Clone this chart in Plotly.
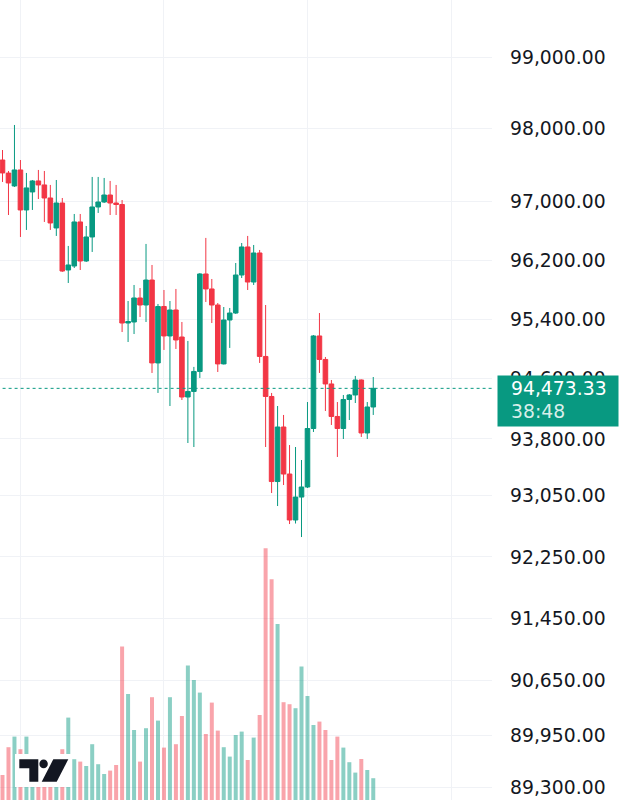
import math
import plotly.graph_objects as go

# ---------------- data ----------------
opens = [97570, 97390, 97213, 97433, 96884, 97131, 97282, 97227, 97048, 96638,
         96979, 96066, 96120, 96720, 96188, 96515, 96925, 96993, 97089, 96979,
         96959, 95349, 95363, 95687, 95592, 95930, 94813, 95572, 95175, 95525,
         95161, 94358, 94432, 94699, 96012, 95809, 95592, 94800, 95390, 95484,
         95998, 96379, 95903, 96297, 94900, 94365, 93238, 93959, 93337, 92733,
         93034, 93166, 93939, 95175, 94860, 94532, 94099, 93939, 94325, 94385,
         94585, 93880, 94225]
closes = [97392, 97254, 97433, 96884, 97186, 97282, 97227, 97048, 96706, 96979,
          96052, 96134, 96720, 96188, 96515, 96925, 96993, 97089, 96979, 96959,
          95349, 95369, 95687, 95592, 95930, 94813, 95572, 95175, 95525, 95121,
          94358, 94432, 94699, 96012, 95809, 95592, 94800, 95390, 95484, 95998,
          96379, 95903, 96297, 94900, 94365, 93238, 93959, 93337, 92733, 93034,
          93166, 93939, 95175, 94860, 94532, 94099, 93939, 94325, 94385, 94585,
          93880, 94225, 94473.33]
highs = [97708, 97419, 98054, 97570, 97392, 97295, 97433, 97419, 97227, 97295,
         97048, 96393, 96829, 96829, 96665, 97337, 97337, 97323, 97282, 97227,
         97020, 95646, 95863, 95822, 96420, 96134, 95606, 95795, 95646, 95809,
         95363, 95108, 94760, 96025, 96502, 95944, 95619, 95565, 95552, 96161,
         96433, 96529, 96406, 96338, 95592, 94412, 94238, 94119, 93720, 93694,
         93522, 94291, 95188, 95484, 94893, 94585, 94291, 94385, 94398, 94639,
         94592, 94291, 94625]
lows = [97268, 96815, 97199, 96515, 96611, 96884, 97034, 96720, 96611, 96529,
        96040, 95890, 96093, 96066, 96175, 96311, 96843, 96979, 96815, 96815,
        95228, 95094, 95201, 95430, 95363, 94679, 94412, 94987, 94238, 95000,
        94318, 93747, 93694, 94612, 95633, 95349, 94692, 94793, 95014, 95471,
        95957, 95795, 95863, 94813, 93694, 93087, 92916, 93192, 92680, 92687,
        92510, 93153, 93893, 94679, 94172, 93986, 93562, 93800, 94052, 94278,
        93827, 93800, 94119]
volumes = [125, 264, 317, 254, 317, 150, 100, 125, 110, 140,
           254, 412, 204, 192, 170, 279, 179, 130, 147, 175,
           767, 530, 350, 192, 359, 514, 397, 262, 514, 279,
           420, 672, 600, 537, 330, 487, 347, 264, 217, 325,
           342, 200, 312, 425, 1259, 1104, 880, 489, 479, 459,
           667, 520, 375, 392, 350, 200, 317, 262, 189, 137,
           205, 150, 109]
price_ticks = [99000, 98000, 97000, 96200, 95400, 94600, 93800, 93050,
               92250, 91450, 90650, 89950, 89300]
time_grid = [3, 27, 51, 75]
countdown = "38:48"

# ---------------- styling ----------------
UP = "#089981"
DOWN = "#F23645"
UP_VOL = "rgba(8,153,129,0.47)"
DOWN_VOL = "rgba(242,54,69,0.45)"
GRID = "#f0f2f6"
TXT = "#131722"
FONT = "DejaVu Sans"
FS = 18.8

W, H = 635, 800
R_MARGIN = 143
PW = W - R_MARGIN

idx = list(range(len(opens)))
vol_colors = [UP_VOL if c >= o else DOWN_VOL for o, c in zip(opens, closes)]
last = closes[-1]

fig = go.Figure()
fig.add_trace(go.Bar(x=idx, y=volumes, marker_color=vol_colors,
                     marker_line_width=0, yaxis="y2", hoverinfo="skip"))
fig.add_trace(go.Candlestick(
    x=idx, open=opens, high=highs, low=lows, close=closes,
    increasing=dict(line=dict(color=UP, width=1), fillcolor=UP),
    decreasing=dict(line=dict(color=DOWN, width=1), fillcolor=DOWN),
    whiskerwidth=0, hoverinfo="skip"))
fig.add_trace(go.Scatter(x=[-5, 200], y=[last, last], mode="lines",
                         line=dict(color=UP, width=1, dash="dot"),
                         hoverinfo="skip"))


def px(x):
    return x / PW


def py(y):
    return 1 - y / H


shapes = [
    dict(type="rect", xref="paper", yref="paper", x0=px(15), x1=px(71),
         y0=py(787), y1=py(754), fillcolor="white", line=dict(width=0),
         layer="above"),
    dict(type="path", xref="paper", yref="paper",
         path=(f"M{px(19.3)},{py(759.3)} L{px(38.3)},{py(759.3)} "
               f"L{px(38.3)},{py(781.7)} L{px(29.3)},{py(781.7)} "
               f"L{px(29.3)},{py(768.3)} L{px(19.3)},{py(768.3)} Z"),
         fillcolor="#131722", line=dict(width=0), layer="above"),
    dict(type="circle", xref="paper", yref="paper", x0=px(39.4), x1=px(47.8),
         y0=py(768.2), y1=py(759.6), fillcolor="#131722", line=dict(width=0),
         layer="above"),
    dict(type="path", xref="paper", yref="paper",
         path=(f"M{px(53.3)},{py(759.3)} L{px(68.3)},{py(759.3)} "
               f"L{px(56.7)},{py(781.7)} L{px(41.7)},{py(781.7)} Z"),
         fillcolor="#131722", line=dict(width=0), layer="above"),
]

annotations = [
    dict(xref="paper", yref="y", x=px(497), y=math.log10(last),
         xanchor="left", yanchor="top", yshift=13, text=" ",
         width=120, height=50, bgcolor=UP, borderpad=0, showarrow=False),
    dict(xref="paper", yref="y", x=px(510), y=math.log10(last),
         xanchor="left", yanchor="middle", text=f"{last:,.2f}",
         font=dict(family=FONT, size=FS, color="white"), showarrow=False,
         borderpad=0),
    dict(xref="paper", yref="y", x=px(510), y=math.log10(last),
         xanchor="left", yanchor="middle", yshift=-23, text=countdown,
         font=dict(family=FONT, size=FS, color="rgba(255,255,255,0.85)"),
         showarrow=False, borderpad=0),
]

# log axis range from the pixel positions of the price scale
top_log = math.log10(99000) + 57 / 16302
bot_log = math.log10(99000) - 743 / 16302

fig.update_layout(
    width=W, height=H,
    margin=dict(l=0, r=R_MARGIN, t=0, b=0),
    paper_bgcolor="white", plot_bgcolor="white",
    showlegend=False, bargap=0.33, hovermode=False,
    boxgap=0.1, boxgroupgap=0.15,
    xaxis=dict(range=[-0.418, (PW - 2.5) / 5.98], tickvals=time_grid,
               showticklabels=False, showgrid=True, gridcolor=GRID,
               zeroline=False, showline=False, rangeslider=dict(visible=False),
               fixedrange=True),
    yaxis=dict(type="log", range=[bot_log, top_log], side="right",
               tickvals=price_ticks,
               ticktext=[f"{v:,.2f}" for v in price_ticks],
               showgrid=True, gridcolor=GRID, zeroline=False, showline=False,
               ticks="", ticklabelstandoff=17,
               tickfont=dict(family=FONT, size=FS, color=TXT), fixedrange=True),
    yaxis2=dict(overlaying="y", range=[0, 4000], visible=False,
                fixedrange=True),
    shapes=shapes, annotations=annotations,
)

fig.write_html("out.html")
